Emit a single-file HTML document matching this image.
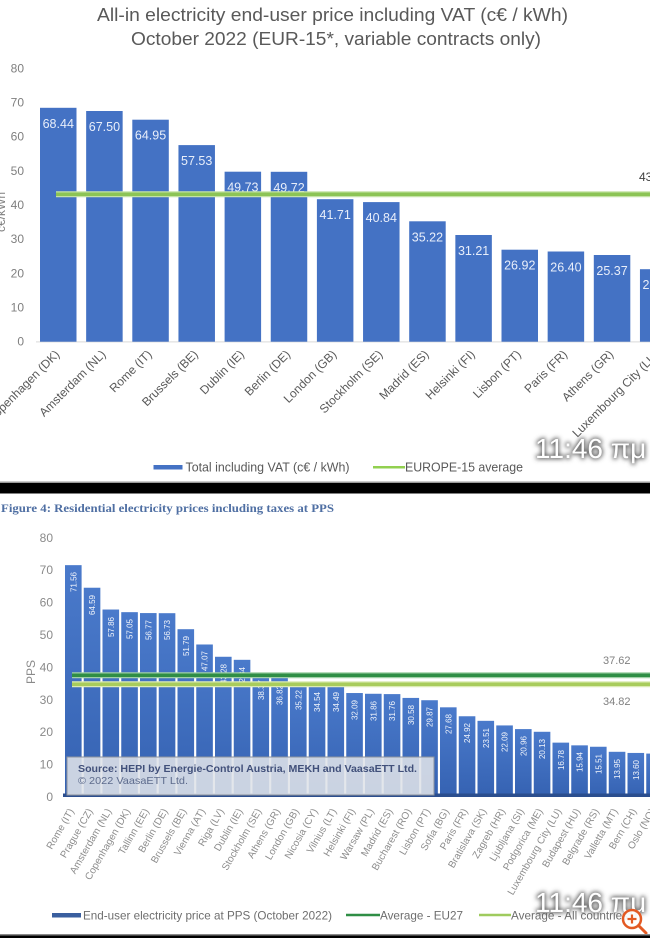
<!DOCTYPE html>
<html>
<head>
<meta charset="utf-8">
<style>
html,body{margin:0;padding:0;background:#fff;}
svg{display:block;}
text{font-family:"Liberation Sans","DejaVu Sans",sans-serif;}
</style>
</head>
<body>
<svg width="650" height="938" viewBox="0 0 650 938" xmlns="http://www.w3.org/2000/svg">
<defs>
<filter id="glow" x="-20%" y="-50%" width="140%" height="200%">
<feGaussianBlur stdDeviation="2.5"/>
</filter>
<linearGradient id="bg2" x1="0" y1="0" x2="0" y2="1">
<stop offset="0" stop-color="#4a7acb"/>
<stop offset="1" stop-color="#3562b2"/>
</linearGradient>
</defs>
<rect x="0" y="0" width="650" height="938" fill="#fff"/>

<!-- ============ CHART 1 ============ -->
<text x="97" y="21" font-size="18" fill="#595959" textLength="471" lengthAdjust="spacingAndGlyphs">All-in electricity end-user price including VAT (c€ / kWh)</text>
<text x="131" y="45" font-size="18" fill="#595959" textLength="410" lengthAdjust="spacingAndGlyphs">October 2022 (EUR-15*, variable contracts only)</text>

<g font-size="12" fill="#7f7f7f" text-anchor="end">
<text x="24" y="345.7">0</text>
<text x="24" y="311.5">10</text>
<text x="24" y="277.4">20</text>
<text x="24" y="243.2">30</text>
<text x="24" y="209">40</text>
<text x="24" y="174.8">50</text>
<text x="24" y="140.7">60</text>
<text x="24" y="106.5">70</text>
<text x="24" y="72.3">80</text>
</g>
<text transform="translate(5,212) rotate(-90)" font-size="12" fill="#7f7f7f" text-anchor="middle">c€/kWh</text>

<line x1="36" y1="341.9" x2="650" y2="341.9" stroke="#d9d9d9" stroke-width="1"/>
<g fill="#4472c4">
<rect x="40" y="107.8" width="36.5" height="233.9"/>
<rect x="86.15" y="111" width="36.5" height="230.7"/>
<rect x="132.3" y="119.7" width="36.5" height="222"/>
<rect x="178.45" y="145.1" width="36.5" height="196.6"/>
<rect x="224.6" y="171.7" width="36.5" height="170"/>
<rect x="270.75" y="171.8" width="36.5" height="169.9"/>
<rect x="316.9" y="199.2" width="36.5" height="142.5"/>
<rect x="363.05" y="202.1" width="36.5" height="139.6"/>
<rect x="409.2" y="221.3" width="36.5" height="120.4"/>
<rect x="455.35" y="235" width="36.5" height="106.7"/>
<rect x="501.5" y="249.7" width="36.5" height="92"/>
<rect x="547.65" y="251.5" width="36.5" height="90.2"/>
<rect x="593.8" y="255" width="36.5" height="86.7"/>
<rect x="639.95" y="269.2" width="36.5" height="72.5"/>
</g>
<g font-size="12.5" fill="#e8eefa" text-anchor="middle">
<text x="58.25" y="127.8">68.44</text>
<text x="104.4" y="131">67.50</text>
<text x="150.55" y="139.7">64.95</text>
<text x="196.7" y="165.1">57.53</text>
<text x="242.85" y="191.7">49.73</text>
<text x="289" y="191.8">49.72</text>
<text x="335.15" y="219.2">41.71</text>
<text x="381.3" y="222.1">40.84</text>
<text x="427.45" y="241.3">35.22</text>
<text x="473.6" y="255">31.21</text>
<text x="519.75" y="269.7">26.92</text>
<text x="565.9" y="271.5">26.40</text>
<text x="612.05" y="275">25.37</text>
<text x="658.2" y="289.2">21.29</text>
</g>
<line x1="56" y1="194.3" x2="650" y2="194.3" stroke="#c5e3a5" stroke-width="6"/>
<line x1="56" y1="194.3" x2="650" y2="194.3" stroke="#8cc455" stroke-width="3.5"/>
<text x="639" y="181" font-size="12" fill="#404040">43.29</text>

<g font-size="12" fill="#595959" text-anchor="end">
<text transform="translate(60.25,355) rotate(-45)">Copenhagen (DK)</text>
<text transform="translate(106.4,355) rotate(-45)">Amsterdam (NL)</text>
<text transform="translate(152.55,355) rotate(-45)">Rome (IT)</text>
<text transform="translate(198.7,355) rotate(-45)">Brussels (BE)</text>
<text transform="translate(244.85,355) rotate(-45)">Dublin (IE)</text>
<text transform="translate(291,355) rotate(-45)">Berlin (DE)</text>
<text transform="translate(337.15,355) rotate(-45)">London (GB)</text>
<text transform="translate(383.3,355) rotate(-45)">Stockholm (SE)</text>
<text transform="translate(429.45,355) rotate(-45)">Madrid (ES)</text>
<text transform="translate(475.6,355) rotate(-45)">Helsinki (FI)</text>
<text transform="translate(521.75,355) rotate(-45)">Lisbon (PT)</text>
<text transform="translate(567.9,355) rotate(-45)">Paris (FR)</text>
<text transform="translate(614.05,355) rotate(-45)">Athens (GR)</text>
<text transform="translate(660.2,355) rotate(-45)">Luxembourg City (LU)</text>
</g>

<rect x="153.5" y="465" width="29" height="4.5" fill="#4472c4"/>
<text x="185.5" y="471.5" font-size="12.5" fill="#595959" textLength="164" lengthAdjust="spacingAndGlyphs">Total including VAT (c€ / kWh)</text>
<line x1="373" y1="467.3" x2="405" y2="467.3" stroke="#92d050" stroke-width="2.5"/>
<text x="405" y="471.5" font-size="12.5" fill="#595959" textLength="118" lengthAdjust="spacingAndGlyphs">EUROPE-15 average</text>

<text x="535" y="458" font-size="28" fill="#555" stroke="#555" stroke-width="2" filter="url(#glow)">11:46 πμ</text>
<text x="535" y="458" font-size="28" fill="#ffffff">11:46 πμ</text>

<!-- separator -->
<rect x="0" y="481.5" width="650" height="1.5" fill="#9a9a9a"/>
<rect x="0" y="483" width="650" height="10.5" fill="#000"/>

<!-- ============ CHART 2 ============ -->
<text x="1" y="512" font-size="12" font-weight="bold" fill="#4f6fa3" style="font-family:'Liberation Serif','DejaVu Serif',serif" textLength="333" lengthAdjust="spacingAndGlyphs">Figure 4: Residential electricity prices including taxes at PPS</text>

<g font-size="12" fill="#8a8a8a" text-anchor="end">
<text x="53" y="801">0</text>
<text x="53" y="768.6">10</text>
<text x="53" y="736.2">20</text>
<text x="53" y="703.8">30</text>
<text x="53" y="671.4">40</text>
<text x="53" y="639">50</text>
<text x="53" y="606.6">60</text>
<text x="53" y="574.2">70</text>
<text x="53" y="541.8">80</text>
</g>
<text transform="translate(35,672) rotate(-90)" font-size="12" fill="#8a8a8a" text-anchor="middle">PPS</text>

<g fill="url(#bg2)">
<rect x="65" y="565.15" width="16.6" height="231.85"/>
<rect x="83.75" y="587.73" width="16.6" height="209.27"/>
<rect x="102.5" y="609.53" width="16.6" height="187.47"/>
<rect x="121.25" y="612.16" width="16.6" height="184.84"/>
<rect x="140" y="613.07" width="16.6" height="183.93"/>
<rect x="158.75" y="613.19" width="16.6" height="183.81"/>
<rect x="177.5" y="629.2" width="16.6" height="167.8"/>
<rect x="196.25" y="644.49" width="16.6" height="152.51"/>
<rect x="215" y="656.77" width="16.6" height="140.23"/>
<rect x="233.75" y="659.82" width="16.6" height="137.18"/>
<rect x="252.5" y="672.68" width="16.6" height="124.32"/>
<rect x="271.25" y="677.7" width="16.6" height="119.3"/>
<rect x="290" y="682.89" width="16.6" height="114.11"/>
<rect x="308.75" y="685.09" width="16.6" height="111.91"/>
<rect x="327.5" y="685.25" width="16.6" height="111.75"/>
<rect x="346.25" y="693.03" width="16.6" height="103.97"/>
<rect x="365" y="693.77" width="16.6" height="103.23"/>
<rect x="383.75" y="694.1" width="16.6" height="102.9"/>
<rect x="402.5" y="697.92" width="16.6" height="99.08"/>
<rect x="421.25" y="700.22" width="16.6" height="96.78"/>
<rect x="440" y="707.32" width="16.6" height="89.68"/>
<rect x="458.75" y="716.26" width="16.6" height="80.74"/>
<rect x="477.5" y="720.83" width="16.6" height="76.17"/>
<rect x="496.25" y="725.43" width="16.6" height="71.57"/>
<rect x="515" y="729.09" width="16.6" height="67.91"/>
<rect x="533.75" y="731.78" width="16.6" height="65.22"/>
<rect x="552.5" y="742.63" width="16.6" height="54.37"/>
<rect x="571.25" y="745.35" width="16.6" height="51.65"/>
<rect x="590" y="746.75" width="16.6" height="50.25"/>
<rect x="608.75" y="751.8" width="16.6" height="45.2"/>
<rect x="627.5" y="752.94" width="16.6" height="44.06"/>
<rect x="646.25" y="753.58" width="16.6" height="43.42"/>
</g>
<rect x="63" y="793.5" width="587" height="3.5" fill="#2b4e8e"/>

<g font-size="8" fill="#f2f5fb" text-anchor="end">
<text transform="translate(76.3,572) rotate(-90)">71.56</text>
<text transform="translate(95.05,595) rotate(-90)">64.59</text>
<text transform="translate(113.8,617) rotate(-90)">57.86</text>
<text transform="translate(132.55,619) rotate(-90)">57.05</text>
<text transform="translate(151.3,620) rotate(-90)">56.77</text>
<text transform="translate(170.05,620) rotate(-90)">56.73</text>
<text transform="translate(188.8,636) rotate(-90)">51.79</text>
<text transform="translate(207.55,651) rotate(-90)">47.07</text>
<text transform="translate(226.3,664) rotate(-90)">43.28</text>
<text transform="translate(245.05,667) rotate(-90)">42.34</text>
<text transform="translate(263.8,680) rotate(-90)">38.37</text>
<text transform="translate(282.55,685) rotate(-90)">36.82</text>
<text transform="translate(301.3,690) rotate(-90)">35.22</text>
<text transform="translate(320.05,692) rotate(-90)">34.54</text>
<text transform="translate(338.8,692) rotate(-90)">34.49</text>
<text transform="translate(357.55,700) rotate(-90)">32.09</text>
<text transform="translate(376.3,701) rotate(-90)">31.86</text>
<text transform="translate(395.05,701) rotate(-90)">31.76</text>
<text transform="translate(413.8,705) rotate(-90)">30.58</text>
<text transform="translate(432.55,707) rotate(-90)">29.87</text>
<text transform="translate(451.3,714) rotate(-90)">27.68</text>
<text transform="translate(470.05,723) rotate(-90)">24.92</text>
<text transform="translate(488.8,728) rotate(-90)">23.51</text>
<text transform="translate(507.55,732) rotate(-90)">22.09</text>
<text transform="translate(526.3,736) rotate(-90)">20.96</text>
<text transform="translate(545.05,739) rotate(-90)">20.13</text>
<text transform="translate(563.8,750) rotate(-90)">16.78</text>
<text transform="translate(582.55,752) rotate(-90)">15.94</text>
<text transform="translate(601.3,754) rotate(-90)">15.51</text>
<text transform="translate(620.05,759) rotate(-90)">13.95</text>
<text transform="translate(638.8,760) rotate(-90)">13.60</text>
<text transform="translate(657.55,761) rotate(-90)">13.40</text>
</g>

<!-- average lines -->
<line x1="72" y1="675.3" x2="650" y2="675.3" stroke="#9fd0a6" stroke-width="6"/>
<line x1="72" y1="675.3" x2="650" y2="675.3" stroke="#2f8e45" stroke-width="3.5"/>
<line x1="72" y1="684.3" x2="650" y2="684.3" stroke="#dcebb3" stroke-width="6"/>
<line x1="72" y1="684.3" x2="650" y2="684.3" stroke="#a8cc5c" stroke-width="3.5"/>
<text x="603" y="664" font-size="11" fill="#808080">37.62</text>
<text x="603" y="705" font-size="11" fill="#808080">34.82</text>

<!-- source box -->
<rect x="67" y="757" width="367" height="38" fill="#dfe2e8" fill-opacity="0.88" stroke="#8d939e" stroke-width="1"/>
<text x="78" y="772" font-size="10.5" font-weight="bold" fill="#41507a" textLength="339" lengthAdjust="spacingAndGlyphs">Source: HEPI by Energie-Control Austria, MEKH and VaasaETT Ltd.</text>
<text x="78" y="784" font-size="10.5" fill="#5d6b8c" textLength="110" lengthAdjust="spacingAndGlyphs">© 2022 VaasaETT Ltd.</text>

<g font-size="10" fill="#8c8c8c" text-anchor="end">
<text transform="translate(74.3,811) rotate(-60)">Rome (IT)</text>
<text transform="translate(93.05,811) rotate(-60)">Prague (CZ)</text>
<text transform="translate(111.8,811) rotate(-60)">Amsterdam (NL)</text>
<text transform="translate(130.55,811) rotate(-60)">Copenhagen (DK)</text>
<text transform="translate(149.3,811) rotate(-60)">Tallinn (EE)</text>
<text transform="translate(168.05,811) rotate(-60)">Berlin (DE)</text>
<text transform="translate(186.8,811) rotate(-60)">Brussels (BE)</text>
<text transform="translate(205.55,811) rotate(-60)">Vienna (AT)</text>
<text transform="translate(224.3,811) rotate(-60)">Riga (LV)</text>
<text transform="translate(243.05,811) rotate(-60)">Dublin (IE)</text>
<text transform="translate(261.8,811) rotate(-60)">Stockholm (SE)</text>
<text transform="translate(280.55,811) rotate(-60)">Athens (GR)</text>
<text transform="translate(299.3,811) rotate(-60)">London (GB)</text>
<text transform="translate(318.05,811) rotate(-60)">Nicosia (CY)</text>
<text transform="translate(336.8,811) rotate(-60)">Vilnius (LT)</text>
<text transform="translate(355.55,811) rotate(-60)">Helsinki (FI)</text>
<text transform="translate(374.3,811) rotate(-60)">Warsaw (PL)</text>
<text transform="translate(393.05,811) rotate(-60)">Madrid (ES)</text>
<text transform="translate(411.8,811) rotate(-60)">Bucharest (RO)</text>
<text transform="translate(430.55,811) rotate(-60)">Lisbon (PT)</text>
<text transform="translate(449.3,811) rotate(-60)">Sofia (BG)</text>
<text transform="translate(468.05,811) rotate(-60)">Paris (FR)</text>
<text transform="translate(486.8,811) rotate(-60)">Bratislava (SK)</text>
<text transform="translate(505.55,811) rotate(-60)">Zagreb (HR)</text>
<text transform="translate(524.3,811) rotate(-60)">Ljubljana (SI)</text>
<text transform="translate(543.05,811) rotate(-60)">Podgorica (ME)</text>
<text transform="translate(561.8,811) rotate(-60)">Luxembourg City (LU)</text>
<text transform="translate(580.55,811) rotate(-60)">Budapest (HU)</text>
<text transform="translate(599.3,811) rotate(-60)">Belgrade (RS)</text>
<text transform="translate(618.05,811) rotate(-60)">Valletta (MT)</text>
<text transform="translate(636.8,811) rotate(-60)">Bern (CH)</text>
<text transform="translate(655.55,811) rotate(-60)">Oslo (NO)</text>
</g>

<!-- legend 2 -->
<rect x="52" y="913" width="29" height="4.5" fill="#3a5f9f"/>
<text x="83" y="919.5" font-size="12" fill="#6e6e6e" textLength="249" lengthAdjust="spacingAndGlyphs">End-user electricity price at PPS (October 2022)</text>
<line x1="346" y1="915" x2="380" y2="915" stroke="#2f8e45" stroke-width="2.5"/>
<text x="380" y="919.5" font-size="12" fill="#6e6e6e" textLength="83" lengthAdjust="spacingAndGlyphs">Average - EU27</text>
<line x1="479" y1="915" x2="511" y2="915" stroke="#9fcb5e" stroke-width="2.5"/>
<text x="511" y="919.5" font-size="12" fill="#6e6e6e" textLength="117" lengthAdjust="spacingAndGlyphs">Average - All countries</text>

<text x="535" y="912" font-size="28" fill="#555" stroke="#555" stroke-width="2" filter="url(#glow)">11:46 πμ</text>
<text x="535" y="912" font-size="28" fill="#ffffff">11:46 πμ</text>

<!-- magnifier icon -->
<line x1="638" y1="925" x2="646" y2="933" stroke="#e35a23" stroke-width="3" stroke-linecap="round"/>
<circle cx="632" cy="919" r="9" fill="#ffffff" fill-opacity="0.9" stroke="#e35a23" stroke-width="2.5"/>
<line x1="627.5" y1="919" x2="636.5" y2="919" stroke="#e35a23" stroke-width="2.2"/>
<line x1="632" y1="914.5" x2="632" y2="923.5" stroke="#e35a23" stroke-width="2.2"/>

<rect x="0" y="934" width="650" height="1.5" fill="#8a8a8a"/>
<rect x="0" y="935.5" width="650" height="2.5" fill="#000"/>
</svg>
</body>
</html>
